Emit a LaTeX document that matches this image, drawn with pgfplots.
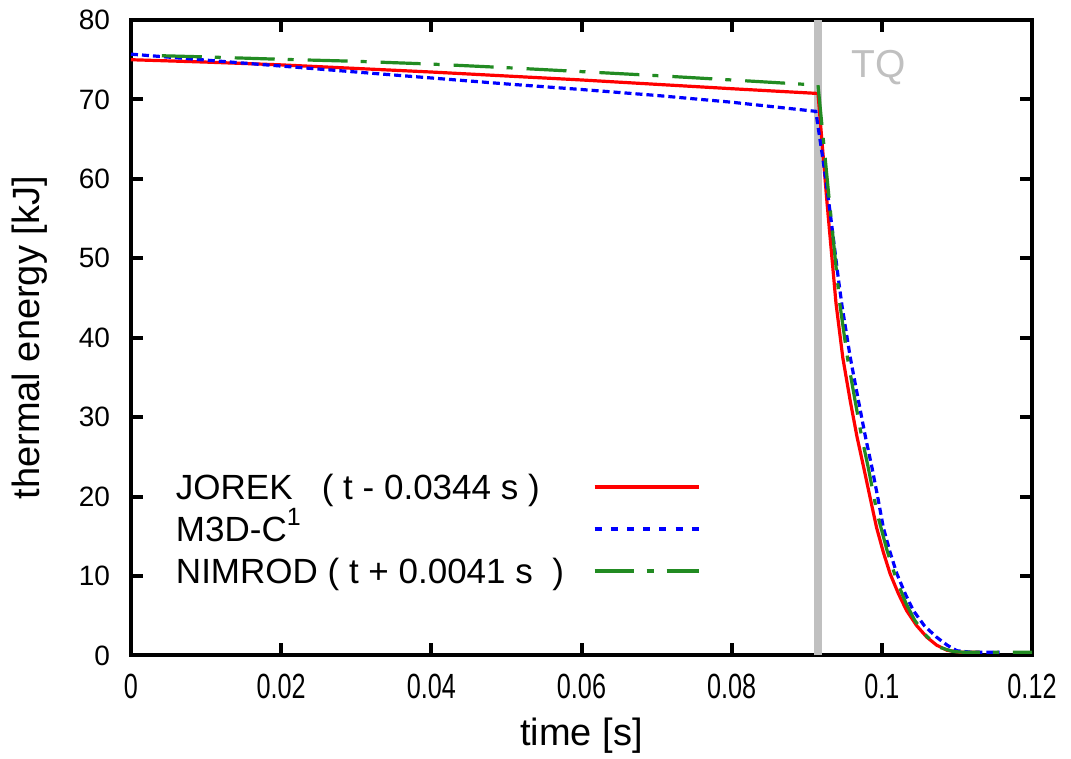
\documentclass[border=0pt]{standalone}
\usepackage{fontspec}
\setmainfont{Liberation Sans}
\usepackage{graphicx}
\usepackage{pgfplots}
\pgfplotsset{compat=1.18}
\definecolor{jorek}{HTML}{FF0000}
\definecolor{m3dc}{HTML}{0000FF}
\definecolor{nimrod}{HTML}{228B22}
\definecolor{tqgrey}{HTML}{C0C0C0}

\newcommand{\xt}[1]{\scalebox{0.72}[1]{#1}}

\begin{document}
\begin{tikzpicture}
\begin{axis}[
  scale only axis,
  width=450.5pt, height=317.75pt,
  xmin=0, xmax=0.12, ymin=0, ymax=80,
  xtick={0,0.02,0.04,0.06,0.08,0.1,0.12},
  xticklabels={\xt{0},\xt{0.02},\xt{0.04},\xt{0.06},\xt{0.08},\xt{0.1},\xt{0.12}},
  ytick={0,10,20,30,40,50,60,70,80},
  axis line style={line width=2pt},
  tick style={line width=2pt, black},
  major tick length=6pt,
  tick align=inside,
  /pgf/number format/assume math mode=true,
  yticklabel style={font=\fontsize{14}{14}\selectfont, xshift=-7pt},
  xticklabel style={font=\fontsize{17.5}{17.5}\selectfont, yshift=-5.5pt},
  xlabel={time [s]},
  ylabel={thermal energy [kJ]},
  label style={font=\fontsize{19}{19}\selectfont},
  xlabel style={at={(axis description cs:0.5,0)}, anchor=center, yshift=-40pt},
  ylabel style={at={(axis description cs:0,0.5)}, anchor=center, yshift=50.5pt},
  legend plot pos=right,
  legend cell align=left,
  legend style={at={(axis description cs:0,0)}, anchor=south west,
    xshift=22.5pt, yshift=36pt, draw=none, fill=none,
    inner sep=0pt, outer sep=0pt, row sep=8.5pt, column sep=14.5pt,
    font=\fontsize{17.5}{17.5}\selectfont,
    nodes={inner sep=0pt, text height=12.5pt, text depth=0pt}},
  legend image code/.code={\draw[#1] (0pt,0pt) -- (52pt,0pt);},
]
% thermal quench marker
\addplot[forget plot, tqgrey, line width=3.8pt] coordinates {(0.0915,0) (0.0915,80)};
\node[text=tqgrey, anchor=base, font=\fontsize{19.5}{19.5}\selectfont] at (axis cs:0.0996,72.8) {TQ};

% JOREK (t - 0.0344 s)
\addplot[forget plot, jorek, line width=1.6pt] coordinates {
  (0,75.0) (0.01,74.7) (0.02,74.35) (0.03,73.9) (0.04,73.45) (0.05,72.95)
  (0.06,72.45) (0.07,71.9) (0.08,71.35) (0.0915,70.75) (0.0927,57.0)
  (0.0939,44.3) (0.0948,37.5) (0.0958,32.0) (0.0967,27.5) (0.0976,23.6)
  (0.0985,19.6) (0.0993,16.1) (0.1002,13.0) (0.1011,10.3) (0.1022,7.8)
  (0.1033,5.65) (0.1046,3.8) (0.1060,2.3) (0.1073,1.3) (0.1087,0.65)
  (0.1105,0.4) (0.1130,0.4)};

% M3D-C1
\addplot[forget plot, m3dc, line width=1.6pt, dash pattern=on 3.5pt off 2pt] coordinates {
  (0,75.7) (0.01,74.95) (0.02,74.2) (0.03,73.45) (0.04,72.7) (0.05,71.95)
  (0.06,71.25) (0.07,70.5) (0.08,69.65) (0.0912,68.5) (0.0922,62.2)
  (0.0931,55.9) (0.0942,47.5) (0.0947,44.0) (0.0958,37.5) (0.0969,32.0)
  (0.0978,27.6) (0.0987,23.6) (0.0995,19.7) (0.1002,16.1) (0.1011,13.0)
  (0.1020,10.3) (0.1031,7.8) (0.1042,5.65) (0.1057,3.7) (0.1073,2.3)
  (0.1087,1.3) (0.1100,0.6) (0.1120,0.4) (0.1157,0.4)};

% NIMROD (t + 0.0041 s)
\addplot[forget plot, nimrod, line width=1.6pt, dash pattern=on 20pt off 6.5pt on 3pt off 7pt] coordinates {
  (0.0041,75.5) (0.01,75.35) (0.02,75.05) (0.03,74.8) (0.04,74.45) (0.05,74.0)
  (0.06,73.5) (0.07,73.0) (0.08,72.45) (0.0915,71.8) (0.0930,57.3)
  (0.0944,44.3) (0.0954,37.6) (0.09645,32.0) (0.0973,27.6) (0.0982,23.6)
  (0.0994,17.8) (0.1007,13.2) (0.1020,9.4) (0.1032,6.6) (0.1044,4.4)
  (0.1060,2.4) (0.1078,1.0) (0.1095,0.5) (0.1110,0.4) (0.12,0.4)};

\addlegendimage{jorek, line width=1.6pt}
\addlegendentry{JOREK\ \ \ ( t - 0.0344 s )}
\addlegendimage{m3dc, line width=1.6pt, dash pattern=on 3.5pt off 4.6pt}
\addlegendentry{M3D-C\raisebox{0.85ex}{\fontsize{12.5}{12.5}\selectfont 1}}
\addlegendimage{nimrod, line width=1.6pt, dash pattern=on 19.5pt off 6.5pt on 3.5pt off 6.5pt}
\addlegendentry{NIMROD ( t + 0.0041 s\ \ )}
\end{axis}
\pgfresetboundingbox
\path ([shift={(-65.5pt,-51.75pt)}]current axis.south west) rectangle ([shift={(19.5pt,10pt)}]current axis.north east);
\end{tikzpicture}
\end{document}
